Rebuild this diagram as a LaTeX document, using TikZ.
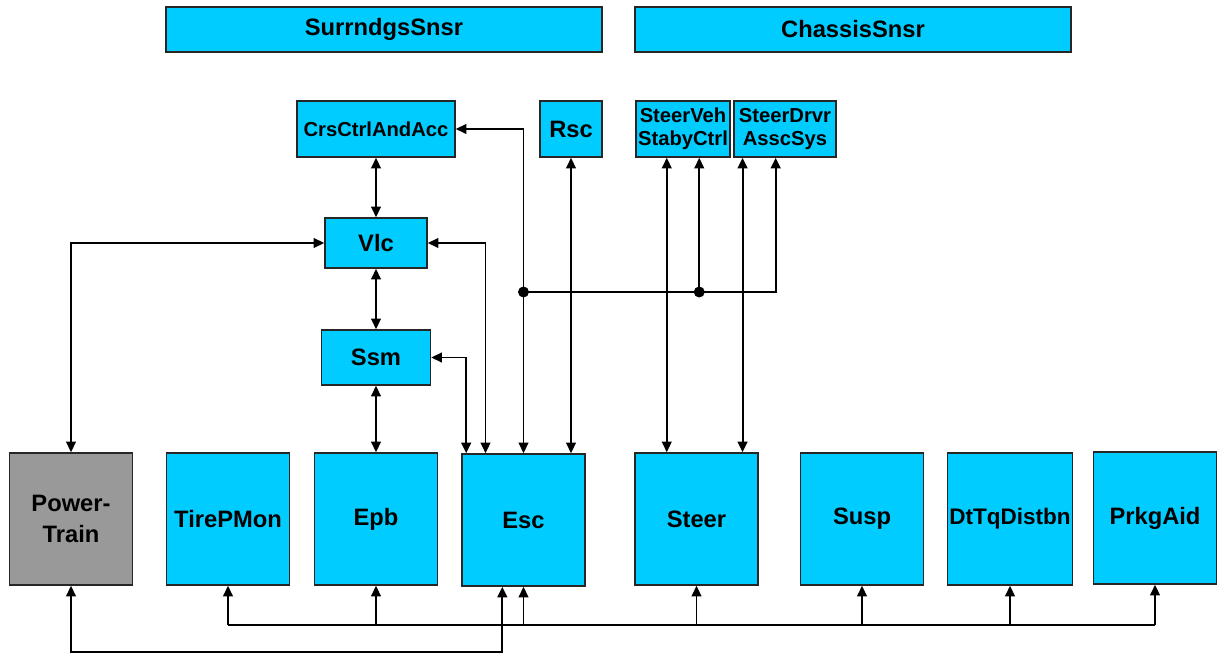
\documentclass[tikz,border=0pt]{standalone}
\usepackage{fontspec}
\setmainfont{Liberation Sans}
\usetikzlibrary{arrows.meta,calc}
\definecolor{ecublue}{HTML}{00CCFF}
\definecolor{ptgray}{HTML}{999999}

\begin{document}
\begin{tikzpicture}[
    x=0.02cm, y=-0.02cm,
    >={Triangle[length=6pt,width=5.5pt]},
    box/.style={rectangle, draw=black!85, line width=0.9pt, fill=ecublue, inner sep=1pt, align=center, font=\fontsize{13.5}{15}\selectfont\bfseries},
    sensor/.style={box, minimum width=8.72cm, minimum height=0.9cm},
    func/.style={box, minimum height=1.12cm},
    smalltxt/.style={font=\fontsize{11.5}{13}\selectfont\bfseries},
    ecu/.style={box, minimum width=2.46cm, minimum height=2.64cm},
    wire/.style={line width=1.1pt}
]
    \useasboundingbox (0,0) rectangle (1217,655);

    % Sensors
    \node[sensor] (surr) at (384,29.5) {SurrndgsSnsr};
    \node[sensor] (chas) at (853,29.5) {ChassisSnsr};

    % Functions
    \node[func, smalltxt, minimum width=3.16cm] (crs) at (376,129) {CrsCtrlAndAcc};
    \node[func, minimum width=1.24cm] (rsc) at (571,129) {Rsc};
    \node[func, smalltxt, minimum width=1.88cm] (svsc) at (683,129) {SteerVeh\\StabyCtrl};
    \node[func, smalltxt, minimum width=2.04cm] (sdas) at (785,129) {SteerDrvr\\AsscSys};
    \node[box, minimum width=2.04cm, minimum height=1cm] (vlc) at (376,243) {Vlc};
    \node[box, minimum width=2.18cm, minimum height=1.1cm] (ssm) at (376,357.5) {Ssm};

    % ECUs
    \node[ecu, fill=ptgray, font=\fontsize{13.5}{18}\selectfont\bfseries] (pt) at (71,519) {Power-\\Train};
    \node[ecu] (tire) at (228,519) {TirePMon};
    \node[ecu] (epb) at (376,519) {Epb};
    \node[ecu] (esc) at (523.5,520) {Esc};
    \node[ecu] (steer) at (696.5,519) {Steer};
    \node[ecu] (susp) at (862,519) {Susp};
    \node[ecu, font=\fontsize{12.8}{15}\selectfont\bfseries] (dtq) at (1010,519) {DtTqDistbn};
    \node[ecu] (prkg) at (1155,518) {PrkgAid};

    % Links
    \draw[wire, <->] (crs) -- (vlc);
    \draw[wire, <->] (vlc) -- (ssm);
    \draw[wire, <->] (ssm) -- (epb);
    \draw[wire, <->] (vlc.west) -| (pt.north);
    \draw[wire, <->] (vlc.east) -| ($(esc.north west)!0.195!(esc.north east)$);
    \draw[wire, <->] (ssm.east) -| ($(esc.north west)!0.04!(esc.north east)$);
    \draw[wire, <->] (esc.north) |- (crs.east);
    \draw[wire, <->] (rsc.south) -- (rsc.south |- esc.north);

    % Steering links
    \coordinate (sv1) at ($(svsc.south west)!0.33!(svsc.south east)$);
    \coordinate (sv2) at ($(svsc.south west)!0.67!(svsc.south east)$);
    \coordinate (sd1) at ($(sdas.south west)!0.09!(sdas.south east)$);
    \coordinate (sd2) at ($(sdas.south west)!0.41!(sdas.south east)$);
    \draw[wire, <->] (sv1) -- (sv1 |- steer.north);
    \draw[wire, <->] (sd1) -- (sd1 |- steer.north);

    % Junction
    \coordinate (jn) at (esc.north |- 0,292);
    \draw[wire, ->] (jn) -| (sd2);
    \draw[wire, ->] (sv2 |- jn) -- (sv2);
    \fill (jn) circle[radius=0.11cm];
    \fill (sv2 |- jn) circle[radius=0.11cm];

    % Bus
    \coordinate (bus) at (0,625);
    \draw[wire] (tire.south |- bus) -- (prkg.south |- bus);
    \foreach \n in {tire,epb,esc,steer,susp,dtq,prkg}
        \draw[wire, ->] (\n.south |- bus) -- (\n.south);

    % Loop
    \coordinate (loop) at (0,652);
    \coordinate (esc3) at ($(esc.south west)!0.33!(esc.south east)$);
    \draw[wire, <->] (pt.south) -- (pt.south |- loop) -| (esc3);

\end{tikzpicture}
\end{document}
